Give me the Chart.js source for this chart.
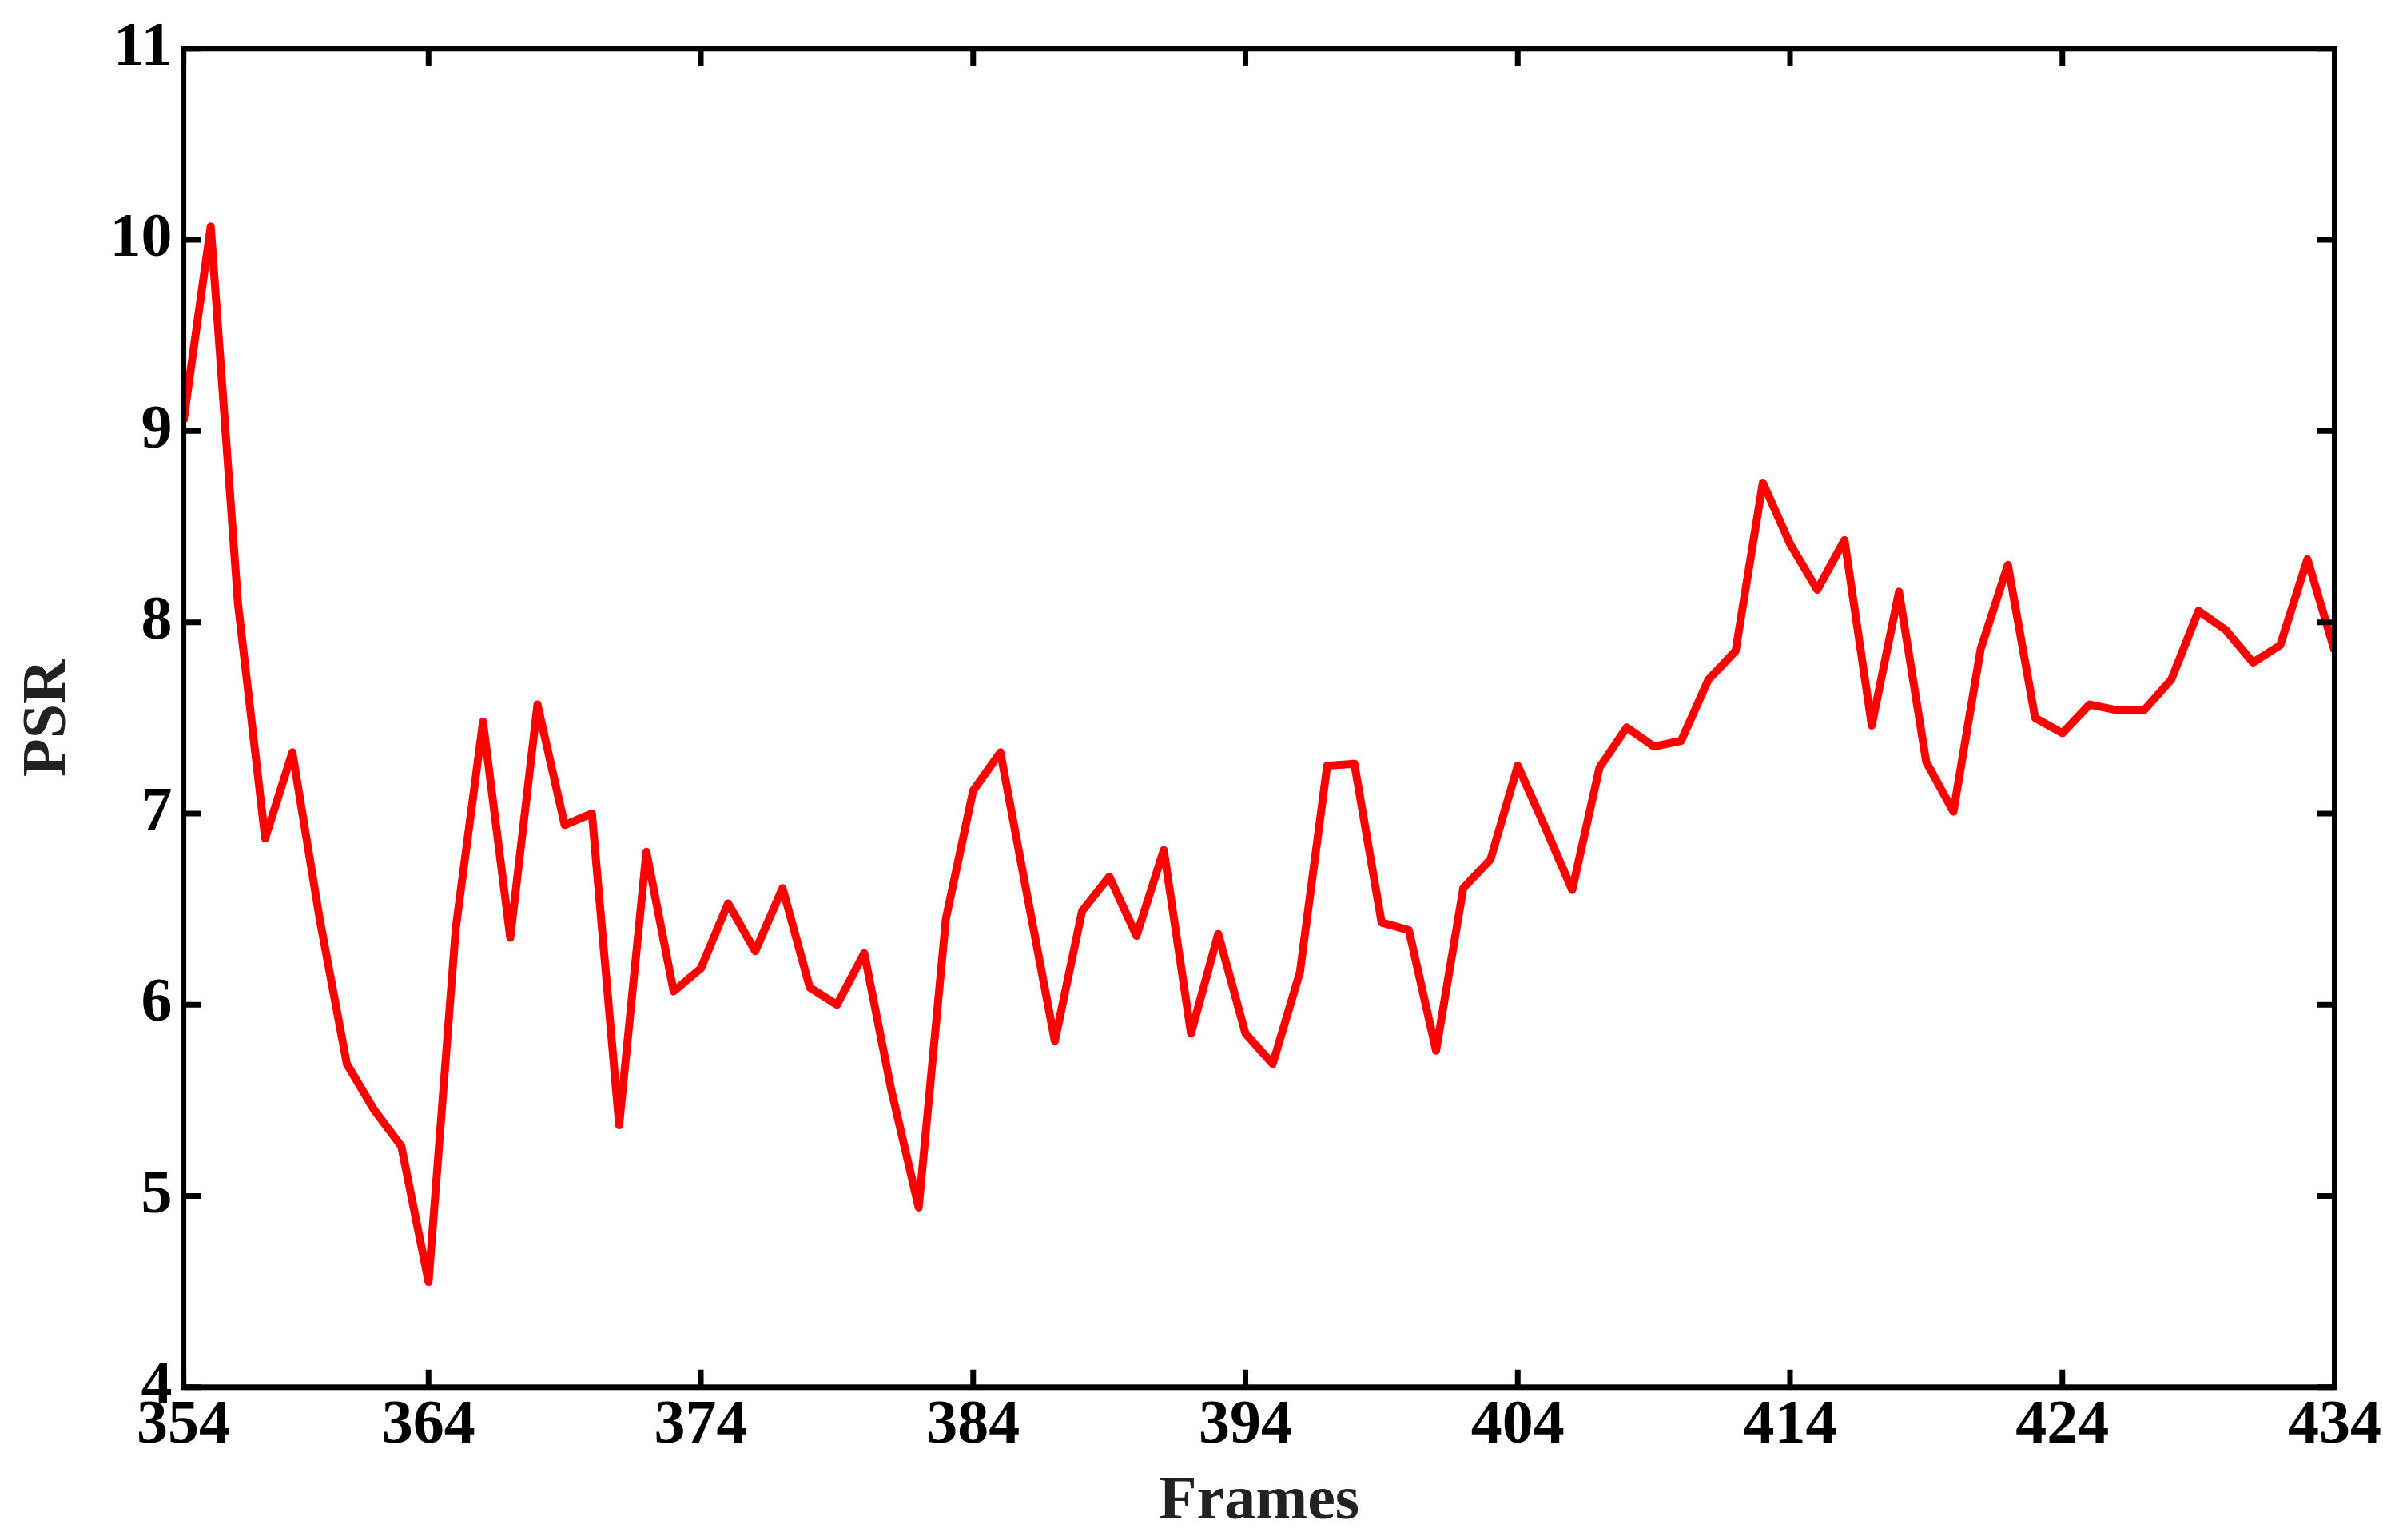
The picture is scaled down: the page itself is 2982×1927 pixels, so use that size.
<!DOCTYPE html>
<html>
<head>
<script src="https://cdn.jsdelivr.net/npm/chart.js@4"></script>
<style>
html,body{margin:0;padding:0;background:#fff}
#wrap{width:2982px;height:1927px}
</style>
</head>
<body>
<div id="wrap"><canvas id="c"></canvas></div>
<script>
// frames 355..434, value
var frames = [];
for (var f = 355; f <= 434; f++) frames.push(f);
var psr = [9.05, 10.07, 8.1, 6.87, 7.32, 6.45, 5.69, 5.45, 5.26, 4.55,
  6.4, 7.48, 6.35, 7.57, 6.94, 7.0, 5.37, 6.8, 6.07, 6.19,
  6.53, 6.28, 6.61, 6.09, 6.0, 6.27, 5.55, 4.94, 6.45, 7.12,
  7.32, 6.56, 5.81, 6.49, 6.67, 6.36, 6.81, 5.85, 6.37, 5.85,
  5.69, 6.17, 7.25, 7.26, 6.43, 6.39, 5.76, 6.61, 6.76, 7.25,
  6.93, 6.6, 7.24, 7.45, 7.35, 7.38, 7.7, 7.85, 8.73, 8.41,
  8.17, 8.43, 7.46, 8.16, 7.27, 7.01, 7.86, 8.3, 7.5, 7.42,
  7.57, 7.54, 7.54, 7.7, 8.06, 7.96, 7.79, 7.88, 8.33, 7.85];
var xTicks = [355, 364, 374, 384, 394, 404, 414, 424, 434];
var xTickLabels = ['354', '364', '374', '384', '394', '404', '414', '424', '434'];
var yTicks = [4, 5, 6, 7, 8, 9, 10, 11];

var font = {family: 'Liberation Serif', size: 78, weight: 'bold'};

// box + inward tick marks, MATLAB style
var boxTicks = {
  id: 'boxTicks',
  afterDraw: function (chart) {
    var c = chart.ctx, a = chart.chartArea;
    var xs = chart.scales.x, ys = chart.scales.y, len = 22;
    c.save();
    c.strokeStyle = '#000';
    c.lineWidth = 7;
    c.strokeRect(a.left, a.top, a.right - a.left, a.bottom - a.top);
    c.beginPath();
    xTicks.forEach(function (v) {
      var px = xs.getPixelForValue(v);
      c.moveTo(px, a.bottom); c.lineTo(px, a.bottom - len);
      c.moveTo(px, a.top); c.lineTo(px, a.top + len);
    });
    yTicks.forEach(function (v) {
      var py = ys.getPixelForValue(v);
      c.moveTo(a.left, py); c.lineTo(a.left + len, py);
      c.moveTo(a.right, py); c.lineTo(a.right - len, py);
    });
    c.stroke();
    c.restore();
  }
};

new Chart(document.getElementById('c'), {
  type: 'line',
  data: {
    datasets: [{
      data: frames.map(function (f, i) { return {x: f, y: psr[i]}; }),
      borderColor: '#ff0000',
      borderWidth: 10,
      borderJoinStyle: 'round',
      pointRadius: 0,
      tension: 0
    }]
  },
  options: {
    responsive: true,
    maintainAspectRatio: false,
    animation: false,
    layout: {padding: {top: 36, right: 58, left: 10, bottom: 0}},
    plugins: {legend: {display: false}, tooltip: {enabled: false}},
    scales: {
      x: {
        type: 'linear', min: 355, max: 434,
        afterBuildTicks: function (s) { s.ticks = xTicks.map(function (v) { return {value: v}; }); },
        ticks: {
          color: '#000', font: font, maxRotation: 0, autoSkip: false, padding: 2,
          callback: function (v) { return xTickLabels[xTicks.indexOf(v)]; }
        },
        grid: {display: false, drawTicks: false},
        border: {display: false},
        title: {display: true, text: 'Frames', color: '#222', font: font, padding: {top: 0, bottom: 0}}
      },
      y: {
        min: 4, max: 11,
        afterBuildTicks: function (s) { s.ticks = yTicks.map(function (v) { return {value: v}; }); },
        ticks: {color: '#000', font: font, padding: 14},
        grid: {display: false, drawTicks: false},
        border: {display: false},
        title: {display: true, text: 'PSR', color: '#222', font: font, padding: {bottom: 16}}
      }
    }
  },
  plugins: [boxTicks]
});
</script>
</body>
</html>
